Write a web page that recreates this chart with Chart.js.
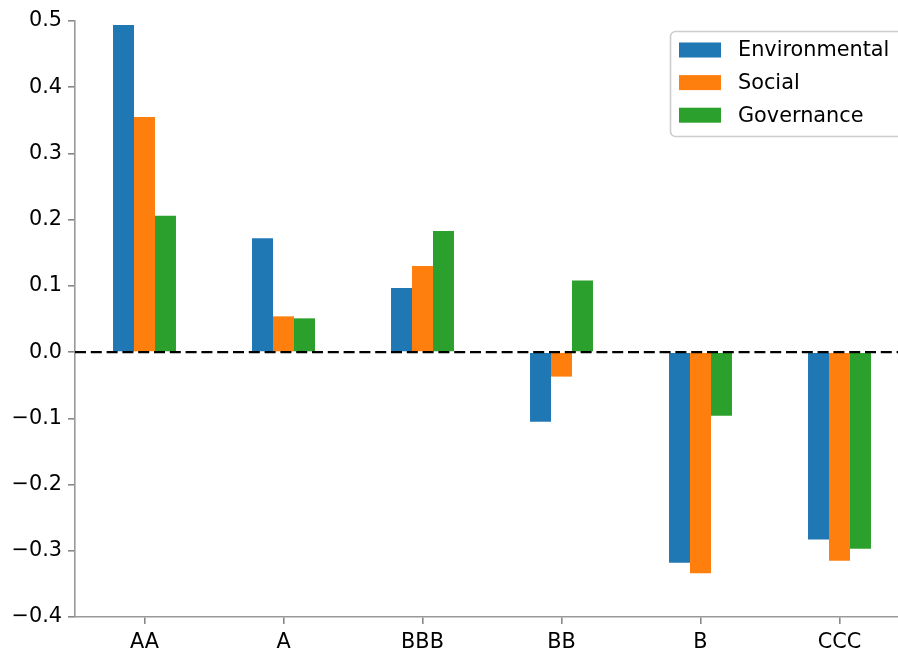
<!DOCTYPE html>
<html>
<head>
<meta charset="utf-8">
<script src="https://cdn.jsdelivr.net/npm/chart.js@4.4.1/dist/chart.umd.min.js"></script>
<style>
  html, body { margin: 0; padding: 0; overflow: hidden; background: #fff; }
  #wrap { position: relative; width: 920px; height: 650px; }
</style>
</head>
<body>
<div id="wrap"><canvas id="c"></canvas></div>
<script>
const categories = ['AA', 'A', 'BBB', 'BB', 'B', 'CCC'];
const environmental = [0.494, 0.172, 0.097, -0.105, -0.318, -0.283];
const social = [0.355, 0.054, 0.130, -0.037, -0.334, -0.315];
const governance = [0.206, 0.051, 0.183, 0.108, -0.096, -0.297];
const seriesNames = ['Environmental', 'Social', 'Governance'];
const seriesColors = ['#1f77b4', '#ff7f0e', '#2ca02c'];
const yTicks = [-0.4, -0.3, -0.2, -0.1, 0.0, 0.1, 0.2, 0.3, 0.4, 0.5];

const FONT = 'DejaVu Sans';
const FSIZE = 20.8;

const zeroLine = {
  id: 'zeroLine',
  afterDatasetsDraw(chart) {
    const { ctx, chartArea, scales } = chart;
    const y = scales.y.getPixelForValue(0);
    ctx.save();
    ctx.strokeStyle = '#000';
    ctx.lineWidth = 2.4;
    ctx.setLineDash([11, 4.8]);
    ctx.beginPath();
    ctx.moveTo(chartArea.left, y);
    ctx.lineTo(chartArea.right, y);
    ctx.stroke();
    ctx.restore();
  }
};

const boxLegend = {
  id: 'boxLegend',
  afterDraw(chart) {
    const { ctx } = chart;
    const x0 = 670.5, y0 = 31.5, w = 240, h = 105, r = 5;
    ctx.save();
    ctx.beginPath();
    ctx.moveTo(x0 + r, y0);
    ctx.lineTo(x0 + w - r, y0);
    ctx.arcTo(x0 + w, y0, x0 + w, y0 + r, r);
    ctx.lineTo(x0 + w, y0 + h - r);
    ctx.arcTo(x0 + w, y0 + h, x0 + w - r, y0 + h, r);
    ctx.lineTo(x0 + r, y0 + h);
    ctx.arcTo(x0, y0 + h, x0, y0 + h - r, r);
    ctx.lineTo(x0, y0 + r);
    ctx.arcTo(x0, y0, x0 + r, y0, r);
    ctx.closePath();
    ctx.fillStyle = 'rgba(255,255,255,0.8)';
    ctx.fill();
    ctx.strokeStyle = '#cccccc';
    ctx.lineWidth = 1.6;
    ctx.stroke();
    ctx.font = FSIZE + 'px "' + FONT + '"';
    ctx.textBaseline = 'middle';
    ctx.textAlign = 'left';
    chart.data.datasets.forEach((ds, i) => {
      const cy = 50 + i * 32.6;
      ctx.fillStyle = ds.backgroundColor;
      ctx.fillRect(679, cy - 7.5, 42, 15);
      ctx.fillStyle = '#000';
      ctx.fillText(ds.label, 738, cy + 1);
    });
    ctx.restore();
  }
};

new Chart(document.getElementById('c'), {
  type: 'bar',
  data: {
    labels: categories,
    datasets: [
      { label: seriesNames[0], data: environmental, backgroundColor: seriesColors[0] },
      { label: seriesNames[1], data: social, backgroundColor: seriesColors[1] },
      { label: seriesNames[2], data: governance, backgroundColor: seriesColors[2] }
    ]
  },
  options: {
    responsive: true,
    maintainAspectRatio: false,
    animation: false,
    layout: { padding: { top: 21, right: 11, left: 0, bottom: 0 } },
    datasets: { bar: { categoryPercentage: 0.453, barPercentage: 1.0, borderWidth: 0 } },
    plugins: { legend: { display: false }, tooltip: { enabled: false } },
    scales: {
      x: {
        offset: true,
        grid: { display: true, offset: false, drawOnChartArea: false, drawTicks: true, tickLength: 7, color: '#888', lineWidth: 1.6 },
        border: { display: true, color: '#999', width: 1.6 },
        ticks: { color: '#000', padding: 6, font: { family: FONT, size: FSIZE }, maxRotation: 0 },
        afterFit(scale) { scale.height = 33; }
      },
      y: {
        min: -0.4,
        max: 0.5,
        afterBuildTicks(scale) { scale.ticks = yTicks.map(v => ({ value: v })); },
        grid: { display: true, drawOnChartArea: false, drawTicks: true, tickLength: 7, color: '#888', lineWidth: 1.6 },
        border: { display: true, color: '#999', width: 1.6 },
        ticks: {
          color: '#000',
          padding: 6,
          font: { family: FONT, size: FSIZE },
          callback(v) {
            if (Math.abs(v) < 1e-9) return '0.0';
            return v < 0 ? '\u2212' + Math.abs(v).toFixed(1) : v.toFixed(1);
          }
        },
        afterFit(scale) { scale.width = 75; }
      }
    }
  },
  plugins: [zeroLine, boxLegend]
});
</script>
</body>
</html>
